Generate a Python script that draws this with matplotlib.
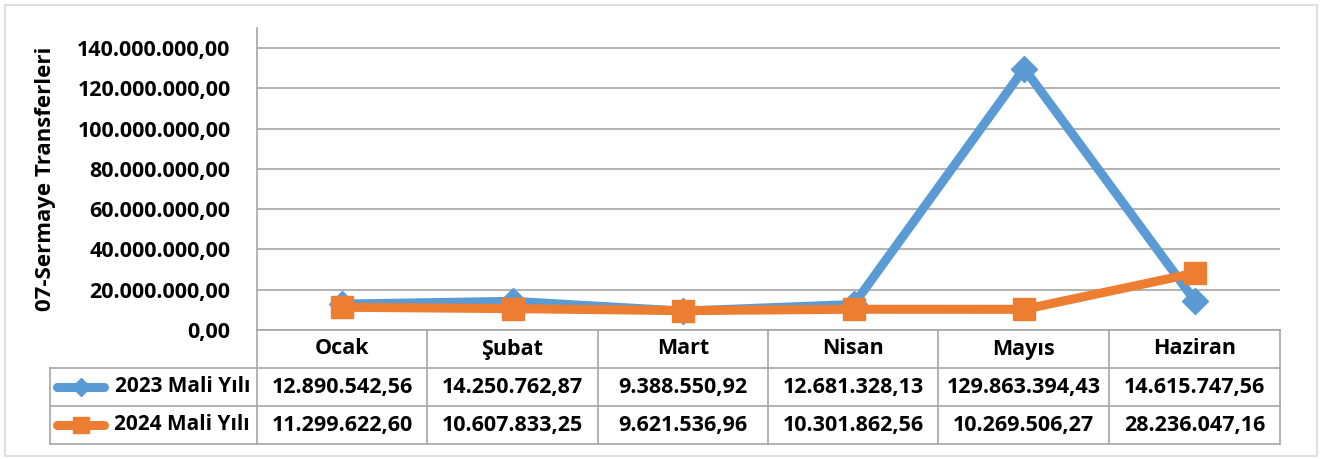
import matplotlib
matplotlib.use("Agg")
import matplotlib.pyplot as plt
from matplotlib.lines import Line2D
from matplotlib.patches import Rectangle
from matplotlib.ticker import FuncFormatter

# === veriler ===
aylar = ["Ocak", "Şubat", "Mart", "Nisan", "Mayıs", "Haziran"]
seri_adlari = ["2023 Mali Yılı", "2024 Mali Yılı"]
mali_2023 = [12890542.56, 14250762.87, 9388550.92, 12681328.13, 129863394.43, 14615747.56]
mali_2024 = [11299622.60, 10607833.25, 9621536.96, 10301862.56, 10269506.27, 28236047.16]
y_ticks = [0, 20e6, 40e6, 60e6, 80e6, 100e6, 120e6, 140e6]

MAVI = "#5B9BD5"
TURUNCU = "#ED7D31"
GRI = "#A6A6A6"
FONT = ["Open Sans", "DejaVu Sans"]
FS = 15.5

W, H = 1322, 459
plt.rcParams['font.family'] = FONT


def tr_format(v):
    s = f"{v:,.2f}"
    return s.replace(",", "X").replace(".", ",").replace("X", ".")


def fx(x):
    return x / W


def fy(y):
    return 1 - y / H


fig = plt.figure(figsize=(W / 100, H / 100), dpi=100)

# moldura externa
fig.patches.append(Rectangle((fx(5), fy(456)), fx(1312), (451) / H, transform=fig.transFigure,
                             fill=False, edgecolor="#D9D9D9", linewidth=1.2))

# === eixo principal ===
left, right, top, bottom = 257, 1280, 28, 330
ax = fig.add_axes([fx(left), fy(bottom), fx(right - left), (bottom - top) / H])
x = list(range(len(aylar)))
ax.plot(x, mali_2023, color=MAVI, linewidth=6.5, marker="D", markersize=13,
        solid_capstyle="round", zorder=3)
ax.plot(x, mali_2024, color=TURUNCU, linewidth=6.5, marker="s", markersize=16,
        solid_capstyle="round", zorder=4)
ax.set_xlim(-0.5, 5.5)
ax.set_ylim(0, 150e6)
ax.set_yticks(y_ticks)
ax.yaxis.set_major_formatter(FuncFormatter(lambda v, p: tr_format(v)))
ax.set_xticks([])
ax.tick_params(axis="y", length=0, pad=19, labelsize=FS)
for lab in ax.get_yticklabels():
    lab.set_fontweight("bold")
ax.grid(axis="y", color=GRI, linewidth=1.2)
for s in ["top", "right", "bottom"]:
    ax.spines[s].set_visible(False)
ax.spines["left"].set_color(GRI)
ax.spines["left"].set_linewidth(1.2)
ax.set_ylabel("07-Sermaye Transferleri", fontsize=16, fontweight="bold")
ax.yaxis.set_label_coords(fx(56 - left) / fx(right - left), (bottom - 179) / (bottom - top))

# === tabela de dados ===
cols = [257, 427, 598, 768, 938, 1109, 1280]
rows = [330, 368, 406, 444]


def linha(x0, y0, x1, y1):
    fig.lines.append(Line2D([fx(x0), fx(x1)], [fy(y0), fy(y1)], transform=fig.transFigure,
                            color=GRI, linewidth=1.2))


linha(257, 330, 1280, 330)
for r in rows[1:]:
    linha(50, r, 1280, r)
linha(50, 368, 50, 444)
linha(257, 330, 257, 444)
for c in cols[1:]:
    linha(c, 330, c, 444)

for i, mes in enumerate(aylar):
    cx = (cols[i] + cols[i + 1]) / 2
    fig.text(fx(cx), fy(349), mes, ha="center", va="center", fontsize=FS, fontweight="bold")
    fig.text(fx(cx), fy(387), tr_format(mali_2023[i]), ha="center", va="center",
             fontsize=FS, fontweight="bold")
    fig.text(fx(cx), fy(425), tr_format(mali_2024[i]), ha="center", va="center",
             fontsize=FS, fontweight="bold")

# legenda dentro da tabela
for yy, nome, cor, mk, ms in [(387, seri_adlari[0], MAVI, "D", 9), (425, seri_adlari[1], TURUNCU, "s", 11)]:
    fig.lines.append(Line2D([fx(57), fx(104)], [fy(yy), fy(yy)], transform=fig.transFigure,
                            color=cor, linewidth=6.5, solid_capstyle="round"))
    fig.lines.append(Line2D([fx(80.5)], [fy(yy)], transform=fig.transFigure,
                            color=cor, marker=mk, markersize=ms, linestyle="none"))
    fig.text(fx(250), fy(yy), nome, ha="right", va="center", fontsize=15, fontweight="bold")

fig.savefig("out.png", dpi=100)
